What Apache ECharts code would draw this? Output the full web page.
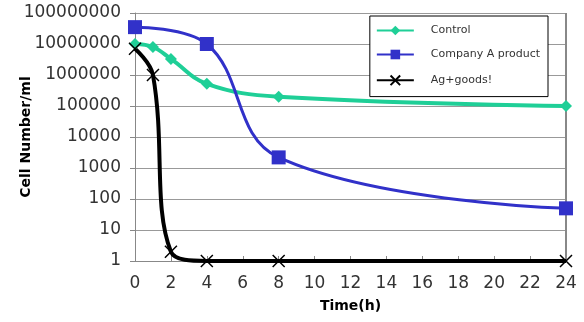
<!DOCTYPE html>
<html>
<head>
<meta charset="utf-8">
<script src="https://cdn.jsdelivr.net/npm/echarts@6/dist/echarts.min.js"></script>
<style>
  html, body { margin: 0; padding: 0; background: #fff; }
  #chart { width: 584px; height: 322px; }
</style>
</head>
<body>
<div id="chart"></div>
<script>
// data
var hours = [0, 1, 2, 4, 8, 24];
var control = [10000000, 8000000, 3300000, 520000, 200000, 100000];
var companyA = [35000000, null, null, 10000000, 2200, 50];
var agGoods = [7000000, 1000000, 2, 1, 1, 1];

function pairs(ys) {
  var out = [];
  for (var i = 0; i < hours.length; i++) {
    if (ys[i] != null) out.push([hours[i], ys[i]]);
  }
  return out;
}

var font = 'DejaVu Sans';
var myChart = echarts.init(document.getElementById('chart'));
var option = {
  animation: false,
  grid: { left: 135, right: 18, top: 13, bottom: 61, outerBoundsMode: 'none' },
  legend: {
    orient: 'vertical',
    right: 36, top: 16,
    padding: [9, 8, 9, 6],
    itemGap: 13,
    itemWidth: 37, itemHeight: 12,
    backgroundColor: '#fff',
    borderColor: '#000', borderWidth: 1,
    textStyle: { fontFamily: font, fontSize: 11, color: '#333', padding: [0, 0, 0, 12] },
    data: ['Control', 'Company A product', 'Ag+goods!']
  },
  xAxis: {
    type: 'value', min: 0, max: 24, interval: 2,
    name: 'Time(h)', nameLocation: 'middle', nameGap: 38, nameMoveOverlap: false,
    nameTextStyle: { fontFamily: font, fontSize: 14, fontWeight: 'bold', color: '#000' },
    axisLine: { lineStyle: { color: '#888' } },
    axisTick: { inside: true, length: 5, lineStyle: { color: '#888' } },
    axisLabel: { fontFamily: font, fontSize: 17, color: '#333', margin: 14 },
    splitLine: { show: false }
  },
  yAxis: {
    type: 'log', logBase: 10, min: 1, max: 100000000,
    name: 'Cell Number/ml', nameLocation: 'middle', nameGap: 102, nameMoveOverlap: false,
    nameTextStyle: { fontFamily: font, fontSize: 14, fontWeight: 'bold', color: '#000' },
    axisLine: { show: true, lineStyle: { color: '#888' } },
    axisTick: { show: true, length: 5, lineStyle: { color: '#888' } },
    axisLabel: {
      fontFamily: font, fontSize: 17, color: '#333', margin: 14,
      formatter: function (v) { return String(Math.round(v)); }
    },
    splitLine: { lineStyle: { color: '#999', width: 1 } }
  },
  series: [
    {
      name: 'Control', type: 'line', smooth: 0.4,
      data: pairs(control),
      symbol: 'diamond', symbolSize: 12,
      lineStyle: { color: '#1fcf97', width: 4 },
      itemStyle: { color: '#1fcf97' }
    },
    {
      name: 'Company A product', type: 'line', smooth: 0.4,
      data: pairs(companyA),
      symbol: 'rect', symbolSize: 14,
      lineStyle: { color: '#3131c9', width: 3 },
      itemStyle: { color: '#3131c9' }
    },
    {
      name: 'Ag+goods!', type: 'line', smooth: 0.4,
      data: pairs(agGoods),
      symbol: 'path://M0,0 L10,10 M10,0 L0,10', symbolSize: 12,
      lineStyle: { color: '#000', width: 4 },
      itemStyle: { color: 'none', borderColor: '#000', borderWidth: 1.5 }
    }
  ]
};
myChart.setOption(option);
// right border of the plot
var g = myChart.getModel().getComponent('grid').coordinateSystem.getRect();
myChart.setOption({
  graphic: [{
    type: 'line', z: 1,
    shape: { x1: g.x + g.width, y1: g.y, x2: g.x + g.width, y2: g.y + g.height },
    style: { stroke: '#888', lineWidth: 2 }
  }]
});
window.addEventListener('resize', function () { myChart.resize(); });
</script>
</body>
</html>
